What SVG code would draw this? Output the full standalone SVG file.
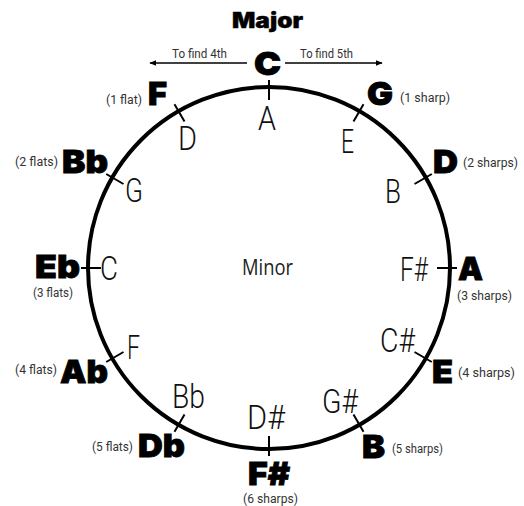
<svg xmlns="http://www.w3.org/2000/svg" width="524" height="506" viewBox="0 0 524 506">
<style>
.maj{font-family:Inter,"Liberation Sans",Arial,sans-serif;font-weight:900;font-size:32px;fill:#000;stroke:#000;stroke-width:0.8px}
.min{font-family:Roboto,"Liberation Sans",Arial,sans-serif;font-weight:300;font-size:34px;fill:#111}
.sm{font-family:Roboto,"Liberation Sans",Arial,sans-serif;font-size:12px;fill:#333}
.tk{stroke:#000;stroke-width:2}
.title{font-family:Inter,"Liberation Sans",Arial,sans-serif;font-weight:900;font-size:21px;fill:#000;stroke:#000;stroke-width:0.4px}
.ctr{font-family:"Open Sans","Liberation Sans",Arial,sans-serif;font-size:21px;fill:#222}
.ar{stroke:#000;stroke-width:1.5;fill:none}
</style>
<defs>
<marker id="ah" viewBox="0 0 10 10" refX="9" refY="5" markerWidth="7" markerHeight="7" markerUnits="userSpaceOnUse" orient="auto">
<path d="M0,1 L10,5 L0,9 z" fill="#000"/>
</marker>
</defs>
<rect width="524" height="506" fill="#fff"/>
<text class="title" x="232" y="28" textLength="71" lengthAdjust="spacingAndGlyphs">Major</text>
<g id="connectors">
<circle cx="269" cy="268" r="181" fill="none" stroke="#000" stroke-width="4"/>
<line class="ar" x1="247" y1="63" x2="150" y2="63" marker-end="url(#ah)"/>
<line class="ar" x1="285" y1="63" x2="382" y2="63" marker-end="url(#ah)"/>
<g class="tk">
<line x1="269" y1="80" x2="269" y2="100"/>
<line x1="363.5" y1="104.3" x2="353.5" y2="121.6"/>
<line x1="431.8" y1="174" x2="414.5" y2="184"/>
<line x1="457" y1="268" x2="437" y2="268"/>
<line x1="431.8" y1="362" x2="414.5" y2="352"/>
<line x1="363.5" y1="431.7" x2="353.5" y2="414.4"/>
<line x1="269" y1="456" x2="269" y2="436"/>
<line x1="174.5" y1="431.7" x2="184.5" y2="414.4"/>
<line x1="106.2" y1="362" x2="123.5" y2="352"/>
<line x1="81" y1="268" x2="101" y2="268"/>
<line x1="106.2" y1="174" x2="123.5" y2="184"/>
<line x1="174.5" y1="104.3" x2="184.5" y2="121.6"/>
</g>
</g>
<g id="arrow-labels">
<text class="sm" x="172" y="58" font-size="10" textLength="55" lengthAdjust="spacingAndGlyphs">To find 4th</text>
<text class="sm" x="300" y="58" font-size="10" textLength="53" lengthAdjust="spacingAndGlyphs">To find 5th</text>
</g>
<g id="node-C"><text class="maj" x="254" y="75" textLength="27" lengthAdjust="spacingAndGlyphs">C</text><text class="min" x="258" y="130" textLength="18" lengthAdjust="spacingAndGlyphs">A</text></g>
<g id="node-G"><text class="maj" x="367" y="105" textLength="26" lengthAdjust="spacingAndGlyphs">G</text><text class="sm" x="400" y="102" textLength="50" lengthAdjust="spacingAndGlyphs">(1 sharp)</text><text class="min" x="341" y="153" textLength="13" lengthAdjust="spacingAndGlyphs">E</text></g>
<g id="node-D"><text class="maj" x="433" y="173" textLength="25" lengthAdjust="spacingAndGlyphs">D</text><text class="sm" x="463" y="167" textLength="55" lengthAdjust="spacingAndGlyphs">(2 sharps)</text><text class="min" x="385" y="203" textLength="16" lengthAdjust="spacingAndGlyphs">B</text></g>
<g id="node-A"><text class="maj" x="458" y="280" textLength="25" lengthAdjust="spacingAndGlyphs">A</text><text class="sm" x="457" y="300" textLength="55" lengthAdjust="spacingAndGlyphs">(3 sharps)</text><text class="min" x="400" y="281" textLength="28" lengthAdjust="spacingAndGlyphs">F#</text></g>
<g id="node-E"><text class="maj" x="432" y="383" textLength="21" lengthAdjust="spacingAndGlyphs">E</text><text class="sm" x="458" y="377" textLength="57" lengthAdjust="spacingAndGlyphs">(4 sharps)</text><text class="min" x="380" y="352" textLength="35" lengthAdjust="spacingAndGlyphs">C#</text></g>
<g id="node-B"><text class="maj" x="362" y="458" textLength="23" lengthAdjust="spacingAndGlyphs">B</text><text class="sm" x="392" y="453" textLength="51" lengthAdjust="spacingAndGlyphs">(5 sharps)</text><text class="min" x="322" y="413" textLength="36" lengthAdjust="spacingAndGlyphs">G#</text></g>
<g id="node-Fs"><text class="maj" x="248" y="485" textLength="42" lengthAdjust="spacingAndGlyphs">F#</text><text class="sm" x="243" y="503" textLength="55" lengthAdjust="spacingAndGlyphs">(6 sharps)</text><text class="min" x="247" y="429" textLength="38" lengthAdjust="spacingAndGlyphs">D#</text></g>
<g id="node-Db"><text class="maj" x="138" y="457" textLength="47" lengthAdjust="spacingAndGlyphs">Db</text><text class="sm" x="92" y="451" textLength="41" lengthAdjust="spacingAndGlyphs">(5 flats)</text><text class="min" x="172" y="408" textLength="33" lengthAdjust="spacingAndGlyphs">Bb</text></g>
<g id="node-Ab"><text class="maj" x="60" y="383" textLength="48" lengthAdjust="spacingAndGlyphs">Ab</text><text class="sm" x="15" y="374" textLength="42" lengthAdjust="spacingAndGlyphs">(4 flats)</text><text class="min" x="127" y="359" textLength="13" lengthAdjust="spacingAndGlyphs">F</text></g>
<g id="node-Eb"><text class="maj" x="35" y="278" textLength="45" lengthAdjust="spacingAndGlyphs">Eb</text><text class="sm" x="33" y="297" textLength="40" lengthAdjust="spacingAndGlyphs">(3 flats)</text><text class="min" x="100" y="280" textLength="18" lengthAdjust="spacingAndGlyphs">C</text></g>
<g id="node-Bb"><text class="maj" x="62" y="173" textLength="46" lengthAdjust="spacingAndGlyphs">Bb</text><text class="sm" x="15" y="166" textLength="43" lengthAdjust="spacingAndGlyphs">(2 flats)</text><text class="min" x="125" y="202" textLength="18" lengthAdjust="spacingAndGlyphs">G</text></g>
<g id="node-F"><text class="maj" x="148" y="105" textLength="19" lengthAdjust="spacingAndGlyphs">F</text><text class="sm" x="106" y="104" textLength="36" lengthAdjust="spacingAndGlyphs">(1 flat)</text><text class="min" x="178" y="150" textLength="19" lengthAdjust="spacingAndGlyphs">D</text></g>
<g id="center"><text class="ctr" x="242" y="275" textLength="51" lengthAdjust="spacingAndGlyphs">Minor</text></g>
</svg>
